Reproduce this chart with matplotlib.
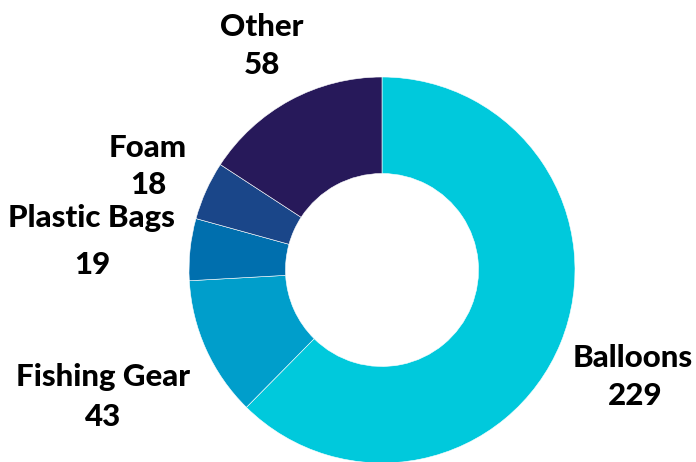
import matplotlib
matplotlib.use("Agg")
import matplotlib.pyplot as plt

categories = ["Balloons", "Fishing Gear", "Plastic Bags", "Foam", "Other"]
values = [229, 43, 19, 18, 58]
colors = ["#00C9DC", "#009ECB", "#006FAE", "#1A4689", "#27195A"]

# label layout (pixel positions of name / value centres)
name_pos = [(633, 358), (103, 377), (91, 218), (148, 148), (262, 27)]
value_pos = [(635, 396), (103, 417), (92, 265), (148, 185), (262, 65)]

W, H = 696, 462
cx, cy, R = 382, 270, 193

fig = plt.figure(figsize=(W / 100, H / 100), dpi=100)
ax = fig.add_axes([(cx - R) / W, (H - cy - R) / H, 2 * R / W, 2 * R / H])
ax.pie(values, colors=colors, startangle=90, counterclock=False, radius=1,
       wedgeprops=dict(width=0.5, edgecolor="white", linewidth=0.4))
ax.set_xlim(-1, 1)
ax.set_ylim(-1, 1)
ax.set_aspect("equal")
ax.axis("off")

def to_data(p):
    return (p[0] - cx) / R, (cy - p[1]) / R

font = dict(family=["Lato", "DejaVu Sans"], fontweight=900, fontsize=22.5, color="black")
for name, val, npos, vpos in zip(categories, values, name_pos, value_pos):
    x, y = to_data(npos)
    ax.text(x, y, name, ha="center", va="center", clip_on=False, **font)
    x, y = to_data(vpos)
    ax.text(x, y, str(val), ha="center", va="center", clip_on=False, **font)

fig.savefig("out.png", dpi=100)
